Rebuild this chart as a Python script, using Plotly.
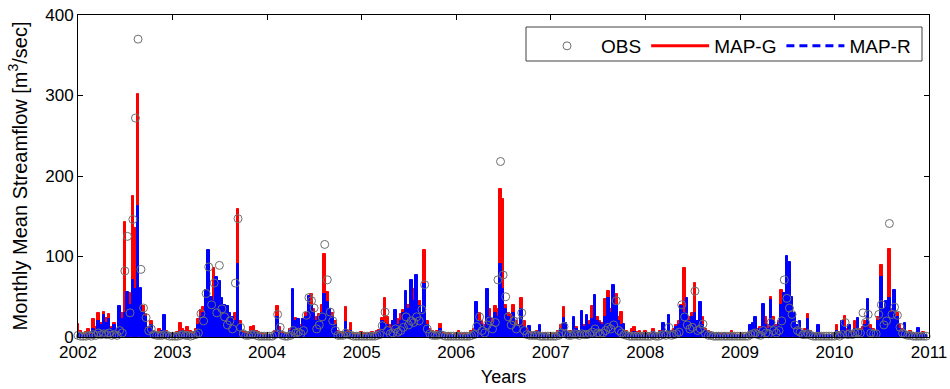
import pandas as pd
import plotly.graph_objects as go

# Sampling dates: 1st, 11th and 21st of every month, 2002-2010
years = list(range(2002, 2011))
dates = [pd.Timestamp(y, m, d) for y in years for m in range(1, 13) for d in (1, 11, 21)]

# Observed streamflow [m3/sec], one row per year
obs = [
    2, 1, 1, 1, 2, 1, 3, 2, 5, 3, 4, 3, 5, 2, 3, 2, 8, 5, 82, 125, 30, 146, 272, 370, 84, 36, 24, 8, 10, 3, 2, 2, 2, 3, 2, 1,
    1, 1, 1, 2, 3, 2, 2, 1, 2, 3, 5, 29, 20, 54, 87, 40, 67, 30, 89, 35, 25, 15, 20, 10, 67, 147, 12, 4, 2, 2, 3, 3, 2, 1, 1, 1,
    1, 1, 1, 3, 28, 12, 2, 1, 1, 2, 8, 5, 6, 4, 8, 27, 49, 45, 36, 10, 15, 25, 115, 71, 31, 20, 8, 2, 2, 2, 5, 3, 2, 1, 1, 1,
    1, 1, 1, 1, 1, 1, 2, 3, 14, 31, 8, 4, 5, 10, 6, 8, 12, 25, 15, 20, 18, 25, 20, 34, 65, 10, 4, 2, 2, 2, 3, 2, 1, 1, 1, 1,
    1, 1, 1, 1, 1, 1, 2, 3, 13, 25, 8, 5, 15, 20, 10, 18, 71, 218, 77, 50, 25, 15, 20, 10, 19, 30, 8, 3, 2, 2, 2, 2, 1, 1, 1, 1,
    1, 1, 1, 2, 5, 13, 4, 2, 2, 4, 3, 2, 4, 3, 3, 4, 6, 10, 5, 4, 5, 8, 12, 10, 15, 45, 8, 5, 3, 2, 1, 1, 1, 1, 1, 1,
    1, 1, 1, 2, 1, 1, 2, 3, 2, 12, 2, 3, 4, 6, 40, 25, 15, 10, 12, 57, 8, 10, 16, 4, 2, 2, 1, 1, 1, 1, 1, 1, 1, 1, 1, 1,
    1, 1, 1, 1, 3, 4, 5, 3, 2, 8, 5, 4, 18, 8, 5, 8, 20, 71, 48, 36, 28, 15, 8, 6, 3, 3, 4, 2, 1, 1, 1, 1, 1, 1, 1, 1,
    1, 2, 1, 3, 18, 3, 4, 3, 5, 6, 5, 30, 18, 28, 5, 4, 4, 28, 40, 15, 20, 141, 28, 37, 27, 12, 5, 3, 2, 2, 1, 1, 1, 1, 1, 1,
]

# Simulated streamflow, MAP-G
map_g = [
    16, 8, 4, 6, 10, 5, 22, 12, 30, 18, 31, 24, 28, 12, 18, 10, 36, 30, 143, 40, 55, 175, 135, 302, 45, 38, 28, 12, 20, 8, 6, 10, 5, 6, 8, 4,
    5, 4, 6, 17, 10, 8, 12, 8, 6, 10, 22, 33, 37, 30, 45, 40, 86, 50, 60, 45, 30, 35, 25, 20, 30, 159, 20, 8, 6, 5, 12, 14, 8, 6, 5, 4,
    4, 3, 3, 8, 39, 12, 6, 5, 4, 10, 18, 24, 20, 15, 22, 30, 45, 54, 35, 25, 28, 40, 103, 56, 35, 30, 20, 8, 6, 5, 37, 8, 17, 5, 4, 3,
    6, 5, 4, 5, 6, 5, 8, 9, 24, 48, 25, 15, 20, 28, 22, 28, 33, 30, 40, 55, 60, 50, 45, 30, 108, 20, 10, 8, 6, 8, 16, 6, 4, 5, 4, 3,
    5, 8, 4, 5, 4, 3, 8, 10, 18, 30, 20, 15, 28, 35, 22, 38, 35, 184, 171, 40, 30, 28, 40, 20, 15, 48, 20, 10, 8, 5, 6, 8, 5, 4, 5, 3,
    3, 4, 5, 8, 15, 37, 10, 6, 8, 20, 12, 8, 18, 15, 12, 20, 38, 30, 25, 20, 18, 47, 57, 35, 40, 53, 25, 31, 12, 8, 5, 10, 12, 6, 8, 5,
    8, 5, 4, 10, 5, 4, 8, 12, 6, 15, 8, 10, 15, 20, 40, 86, 35, 25, 30, 67, 20, 30, 25, 10, 8, 6, 5, 4, 5, 4, 5, 4, 4, 8, 4, 3,
    3, 4, 3, 5, 12, 15, 18, 10, 12, 30, 25, 15, 50, 25, 15, 20, 59, 46, 45, 40, 35, 25, 15, 12, 8, 10, 29, 8, 5, 4, 8, 4, 3, 3, 3, 3,
    4, 15, 6, 5, 26, 10, 12, 8, 20, 15, 10, 12, 20, 40, 15, 10, 8, 25, 90, 30, 25, 109, 35, 53, 30, 15, 10, 8, 6, 8, 5, 4, 8, 4, 6, 3,
]

# Simulated streamflow, MAP-R
map_r = [
    5, 4, 3, 3, 5, 3, 10, 8, 20, 15, 27, 18, 22, 10, 15, 8, 38, 22, 30, 56, 40, 71, 60, 163, 61, 30, 25, 10, 15, 6, 5, 4, 8, 27, 6, 4,
    4, 3, 4, 6, 8, 5, 6, 5, 4, 6, 15, 25, 30, 58, 108, 50, 45, 75, 70, 48, 40, 38, 30, 25, 20, 91, 15, 5, 4, 3, 6, 8, 5, 4, 3, 3,
    3, 3, 3, 5, 25, 8, 4, 4, 3, 8, 60, 20, 22, 12, 22, 25, 51, 40, 30, 20, 25, 30, 54, 44, 35, 25, 15, 5, 4, 3, 19, 5, 8, 3, 3, 2,
    3, 3, 3, 4, 4, 3, 6, 8, 20, 18, 15, 10, 20, 34, 15, 20, 30, 57, 35, 71, 45, 77, 38, 30, 66, 15, 8, 5, 4, 5, 10, 4, 3, 3, 3, 2,
    3, 4, 3, 3, 3, 3, 5, 8, 44, 20, 15, 12, 60, 25, 18, 30, 25, 91, 60, 35, 25, 20, 30, 15, 12, 35, 12, 8, 14, 4, 5, 6, 15, 4, 4, 3,
    2, 3, 3, 5, 10, 23, 17, 6, 5, 25, 10, 8, 32, 12, 27, 15, 22, 52, 20, 18, 15, 25, 48, 30, 65, 40, 20, 15, 16, 6, 4, 5, 6, 4, 5, 3,
    4, 3, 3, 6, 4, 3, 6, 17, 5, 27, 6, 8, 12, 15, 38, 30, 48, 20, 25, 30, 20, 44, 15, 8, 5, 5, 4, 3, 5, 3, 4, 3, 3, 5, 3, 2,
    2, 3, 3, 4, 15, 18, 25, 8, 10, 41, 15, 10, 46, 20, 12, 18, 40, 55, 101, 93, 50, 30, 15, 20, 8, 8, 22, 6, 4, 3, 15, 3, 3, 2, 2, 2,
    3, 8, 4, 20, 12, 6, 15, 5, 10, 23, 8, 8, 15, 47, 10, 8, 6, 20, 74, 35, 45, 48, 30, 59, 25, 10, 6, 17, 4, 5, 4, 3, 11, 3, 4, 2,
]

year_ticks = [pd.Timestamp(y, 1, 1) for y in range(2002, 2012)]
year_labels = [str(y) for y in range(2002, 2012)]
y_ticks = [0, 100, 200, 300, 400]

FONT = "Liberation Sans, Arial, sans-serif"
RED, BLUE, GREY = "#ff0000", "#0000ff", "#6e6e6e"
SPIKE_MS = 10 * 86400000  # width of each flow spike on the date axis

fig = go.Figure()

# Simulated flows drawn as narrow vertical spikes (blue in front of red)
fig.add_trace(go.Bar(x=dates, y=map_g, width=SPIKE_MS, marker=dict(color=RED, line=dict(width=1, color=RED)),
                     name="MAP-G", showlegend=False))
fig.add_trace(go.Bar(x=dates, y=map_r, width=SPIKE_MS, marker=dict(color=BLUE, line=dict(width=1, color=BLUE)),
                     name="MAP-R", showlegend=False))

# Observations as open circles on top
fig.add_trace(go.Scatter(
    x=dates, y=obs, mode="markers", name="OBS", cliponaxis=False,
    marker=dict(symbol="circle-open", size=8, color=GREY, line=dict(width=1, color=GREY)),
    legendrank=1,
))

# Legend keys for the two simulated series (line styles)
fig.add_trace(go.Scatter(x=[None], y=[None], mode="lines", name="MAP-G",
                         line=dict(color=RED, width=3), legendrank=2))
fig.add_trace(go.Scatter(x=[None], y=[None], mode="lines", name="MAP-R",
                         line=dict(color=BLUE, width=3, dash="8px,5px"), legendrank=3))

axis_common = dict(
    showline=True, linecolor="#000000", linewidth=1, mirror="allticks",
    ticks="inside", ticklen=5, tickcolor="#000000", showgrid=False, zeroline=False,
    tickfont=dict(family=FONT, size=17, color="#000000"), automargin=False,
)

# Plot-area geometry in pixels, used to place the legend frame
L, R, T, B = 78, 21, 15, 52
PW, PH = 950 - L - R, 389 - T - B


def px_x(x):
    return (x - L) / PW


def px_y(y):
    return (389 - B - y) / PH


fig.update_layout(
    width=950, height=389,
    margin=dict(l=L, r=R, t=T, b=B),
    paper_bgcolor="white", plot_bgcolor="white",
    font=dict(family=FONT, color="#000000"),
    barmode="overlay", bargap=0,
    showlegend=True,
    legend=dict(
        orientation="h", x=px_x(533), xanchor="left", y=px_y(27), yanchor="top",
        bgcolor="rgba(0,0,0,0)", borderwidth=0,
        font=dict(family=FONT, size=19, color="#000000"),
        itemwidth=58, traceorder="normal",
    ),
    shapes=[dict(type="rect", xref="paper", yref="paper",
                 x0=px_x(526), x1=px_x(922), y0=px_y(61), y1=px_y(27),
                 line=dict(color="#404040", width=1), fillcolor="white", layer="above")],
    xaxis=dict(
        **axis_common, type="date",
        range=[pd.Timestamp(2002, 1, 1), pd.Timestamp(2011, 1, 1)],
        tickvals=year_ticks, ticktext=year_labels,
        title=dict(text="Years", font=dict(family=FONT, size=18, color="#000000"), standoff=8),
    ),
    yaxis=dict(
        **axis_common, range=[0, 400], tickvals=y_ticks,
        title=dict(text="Monthly Mean Streamflow [m<sup>3</sup>/sec]",
                   font=dict(family=FONT, size=20, color="#000000"), standoff=12),
    ),
)

fig.write_html("out.html")
